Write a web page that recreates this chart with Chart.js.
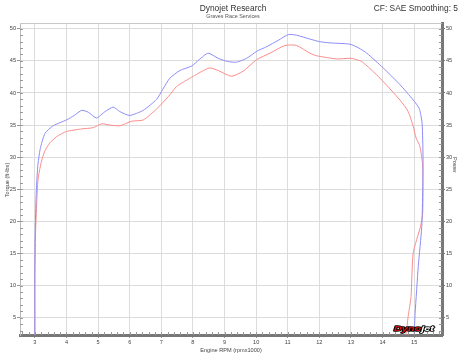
<!DOCTYPE html>
<html>
<head>
<meta charset="utf-8">
<script src="https://cdn.jsdelivr.net/npm/chart.js@4"></script>
<style>
body{margin:0;background:#fff;}
</style>
</head>
<body>
<canvas id="myChart" width="460" height="354"></canvas>
<script>
'use strict';
// run 1 (blue) and run 2 (red), rpm x1000 / torque ft-lbs
const blueRpm=[3.00,3.00,3.01,3.04,3.09,3.17,3.32,3.58,4.00,4.25,4.48,4.69,4.95,5.22,5.48,5.69,6.00,6.43,6.85,7.05,7.27,7.59,7.96,8.20,8.48,8.80,9.10,9.38,9.70,10.02,10.33,10.70,11.02,11.28,11.70,12.00,12.34,12.97,13.25,13.50,14.02,14.55,14.97,15.16,15.25,15.28,15.27,15.24,15.13,15.03,15.00];
const blueTq=[2.3,12,18,24,28.5,31.3,33.7,34.9,35.8,36.5,37.3,37.0,36.1,37.1,37.8,37.1,36.5,37.3,39.0,40.6,42.3,43.5,44.2,45.2,46.2,45.4,44.9,44.8,45.4,46.5,47.2,48.2,49.1,49.0,48.4,48.0,47.8,47.6,47.0,46.2,43.9,41.3,38.9,37.6,35.3,30.0,25.0,19.2,13.0,5.7,2.3];
const redRpm=[3.00,3.00,3.02,3.06,3.10,3.20,3.32,3.47,3.69,4.00,4.48,4.85,5.11,5.37,5.69,6.06,6.43,6.85,7.27,7.48,8.01,8.52,8.80,9.22,9.59,10.02,10.44,10.91,11.28,11.70,11.91,12.55,13.00,13.34,13.92,14.55,14.81,14.97,15.06,15.18,15.27,15.27,15.20,14.97,14.90,14.81,14.74];
const redTq=[2.3,12,18,23,26.5,29.2,31,32.2,33.2,34.0,34.4,34.6,35.2,35.0,34.9,35.6,35.8,37.5,39.7,41.0,42.6,43.9,43.5,42.6,43.4,45.2,46.2,47.4,47.4,46.2,45.8,45.3,45.4,44.9,42.3,38.9,37.1,34.8,33.0,31.7,28.6,21.3,19.2,15.1,8.3,5.2,2.3];
const xTicks=[3,4,5,6,7,8,9,10,11,12,13,14,15];
const yTicks=[5,10,15,20,25,30,35,40,45,50];

function toPoints(xs,ys){
    let pts=[];
    for(let i=0;i<xs.length;i++){
        pts.push({x:xs[i],y:ys[i]});
    }
    return pts;
}

const FONT='"Liberation Sans", Arial, sans-serif';

// titles, minor ticks, frame and logo
const decor={
    id:'decor',
    afterDraw(chart){
        const ctx=chart.ctx;
        const a=chart.chartArea;
        const xs=chart.scales.x;
        const ys=chart.scales.y;
        ctx.save();
        // top frame line
        ctx.strokeStyle='#c8c8c8';
        ctx.lineWidth=1;
        ctx.beginPath();
        ctx.moveTo(a.left,Math.round(a.top)+0.5);
        ctx.lineTo(a.right,Math.round(a.top)+0.5);
        ctx.stroke();
        // minor ticks
        ctx.strokeStyle='#999';
        ctx.beginPath();
        for(let v=3;v<=50;v++){
            let py=Math.round(ys.getPixelForValue(v))+0.5;
            ctx.moveTo(a.left,py);ctx.lineTo(a.left+3,py);
            ctx.moveTo(a.right-3,py);ctx.lineTo(a.right,py);
        }
        for(let v=2.6;v<15.9;v+=0.2){
            let px=Math.round(xs.getPixelForValue(v))+0.5;
            ctx.moveTo(px,a.bottom);ctx.lineTo(px,a.bottom-3);
        }
        ctx.stroke();

        ctx.fillStyle='#333';
        ctx.textBaseline='middle';
        ctx.textAlign='center';
        ctx.font='8.4px '+FONT;
        ctx.fillText('Dynojet Research',233,8.5);
        ctx.font='5.4px '+FONT;
        ctx.fillStyle='#555';
        ctx.fillText('Graves Race Services',233,17);
        ctx.textAlign='right';
        ctx.fillStyle='#333';
        ctx.font='8.4px '+FONT;
        ctx.fillText('CF: SAE Smoothing: 5',458,8.5);

        ctx.fillStyle='#444';
        ctx.font='5.6px '+FONT;
        ctx.textAlign='center';
        ctx.fillText('Engine RPM (rpmx1000)',231,350);
        ctx.save();
        ctx.translate(7,180);
        ctx.rotate(-Math.PI/2);
        ctx.fillText('Torque (ft-lbs)',0,0);
        ctx.restore();
        ctx.save();
        ctx.translate(455,165);
        ctx.rotate(Math.PI/2);
        ctx.fillText('Power',0,0);
        ctx.restore();

        // logo
        ctx.save();
        ctx.translate(394,329);
        ctx.scale(1.45,1);
        ctx.font='italic bold 7.5px '+FONT;
        ctx.textAlign='left';
        ctx.lineWidth=1.6;
        ctx.lineJoin='round';
        ctx.strokeStyle='#000';
        ctx.strokeText('Dyno',0,0);
        ctx.fillStyle='#e01010';
        ctx.fillText('Dyno',0,0);
        let w=ctx.measureText('Dyno').width;
        ctx.strokeText('jet',w,0);
        ctx.fillStyle='#fff';
        ctx.fillText('jet',w,0);
        ctx.restore();
        ctx.restore();
    }
};

const tickFont={family:FONT,size:5.6};

var ctx=document.getElementById('myChart').getContext('2d');
var myChart=new Chart(ctx,{
    type:'scatter',
    data:{
        datasets:[{
            label:'Run 1',
            data:toPoints(blueRpm,blueTq),
            showLine:true,
            borderColor:'rgb(140,140,250)',
            borderWidth:1,
            pointRadius:0,
            tension:0.2,
            yAxisID:'y'
        },{
            label:'Run 2',
            data:toPoints(redRpm,redTq),
            showLine:true,
            borderColor:'rgb(250,140,140)',
            borderWidth:1,
            pointRadius:0,
            tension:0.2,
            yAxisID:'y'
        }]
    },
    options:{
        responsive:false,
        animation:false,
        layout:{padding:{top:23,left:0,right:0,bottom:0}},
        plugins:{legend:{display:false},tooltip:{enabled:false}},
        scales:{
            x:{
                type:'linear',
                min:2.53,max:15.88,
                afterBuildTicks(scale){scale.ticks=xTicks.map(v=>({value:v}));},
                afterFit(scale){scale.height=19;},
                ticks:{font:tickFont,color:'#444',padding:1,maxRotation:0,autoSkip:false},
                grid:{color:'#dcdcdc',tickLength:3,tickColor:'#999'},
                border:{color:'#777',width:3}
            },
            y:{
                type:'linear',
                position:'left',
                min:2.3,max:50.9,
                afterBuildTicks(scale){scale.ticks=yTicks.map(v=>({value:v}));},
                afterFit(scale){scale.width=20;},
                ticks:{font:tickFont,color:'#444',padding:1,autoSkip:false},
                grid:{color:'#dcdcdc',tickLength:3,tickColor:'#999'},
                border:{color:'#bbb',width:1}
            },
            y2:{
                type:'linear',
                position:'right',
                min:2.3,max:50.9,
                afterBuildTicks(scale){scale.ticks=yTicks.map(v=>({value:v}));},
                afterFit(scale){scale.width=18;},
                ticks:{font:tickFont,color:'#444',padding:1,autoSkip:false},
                grid:{drawOnChartArea:false,tickLength:3,tickColor:'#777'},
                border:{color:'#777',width:3}
            }
        }
    },
    plugins:[decor]
});
</script>
</body>
</html>
